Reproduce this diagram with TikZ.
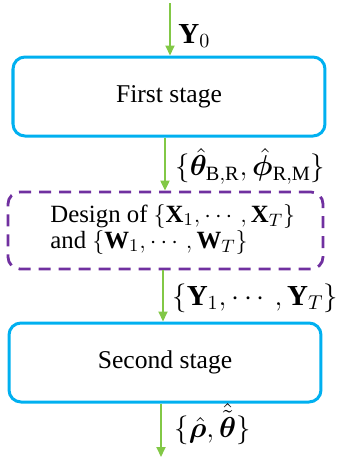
\documentclass[tikz,border=0pt]{standalone}
\usepackage{amsmath,bm}
\usepackage{fontspec}
\setmainfont{Liberation Serif}
\usetikzlibrary{arrows.meta}
\definecolor{boxblue}{RGB}{0,176,240}
\definecolor{boxpurple}{RGB}{112,48,160}
\definecolor{arrgreen}{RGB}{130,200,70}
\begin{document}
\begin{tikzpicture}[x=0.5pt,y=-0.5pt,
  stagebox/.style={draw=boxblue, line width=1.5pt, rounded corners=6pt,
    minimum width=156pt, minimum height=39.5pt, inner sep=0pt,
    font=\fontsize{12.8}{14}\selectfont},
  designbox/.style={draw=boxpurple, line width=1.4pt, rounded corners=6pt,
    dash pattern=on 6pt off 4pt,
    minimum width=157.5pt, minimum height=38.5pt, inner sep=0pt},
  flow/.style={draw=arrgreen, line width=1pt, -{Triangle[length=5pt,width=4.5pt]}},
  lbl/.style={anchor=west, inner sep=0pt, font=\fontsize{14.5}{16}\selectfont}]
\useasboundingbox (0,0) rectangle (337,462);
\node[stagebox] (b1) at (169,96.5) {First stage};
\node[designbox] (b2) at (165.5,230.5) {};
\node[anchor=west, align=left, inner sep=0pt, font=\fontsize{12.4}{11.6}\selectfont] (t2) at (50,229)
  {Design of $\{\mathbf{X}_1,\cdots,\mathbf{X}_T\}$\\ and $\{\mathbf{W}_1,\cdots,\mathbf{W}_T\}$};
\node[stagebox] (b3) at (165,362.5) {Second stage};
\coordinate (in) at (170,3);
\coordinate (out) at (161,457);
\coordinate (x2) at (165,0);
\coordinate (x3) at (163,0);
\draw[flow] (in) -- (b1.north -| in);
\draw[flow] (b1.south -| x2) -- (b2.north -| x2);
\draw[flow] (b2.south -| x3) -- (b3.north -| x3);
\draw[flow] (b3.south -| out) -- (out);
\node[lbl] (l1) at (178,36) {$\mathbf{Y}_0$};
\node[lbl] (l2) at (175,166) {$\{\hat{\bm{\theta}}_{\mathrm{B,R}},\hat{\bm{\phi}}_{\mathrm{R,M}}\}$};
\node[lbl] (l3) at (172,298) {$\{\mathbf{Y}_1,\cdots,\mathbf{Y}_T\}$};
\node[lbl] (l4) at (174,424) {$\{\hat{\bm{\rho}},\hat{\tilde{\bm{\theta}}}\}$};
\end{tikzpicture}
\end{document}
